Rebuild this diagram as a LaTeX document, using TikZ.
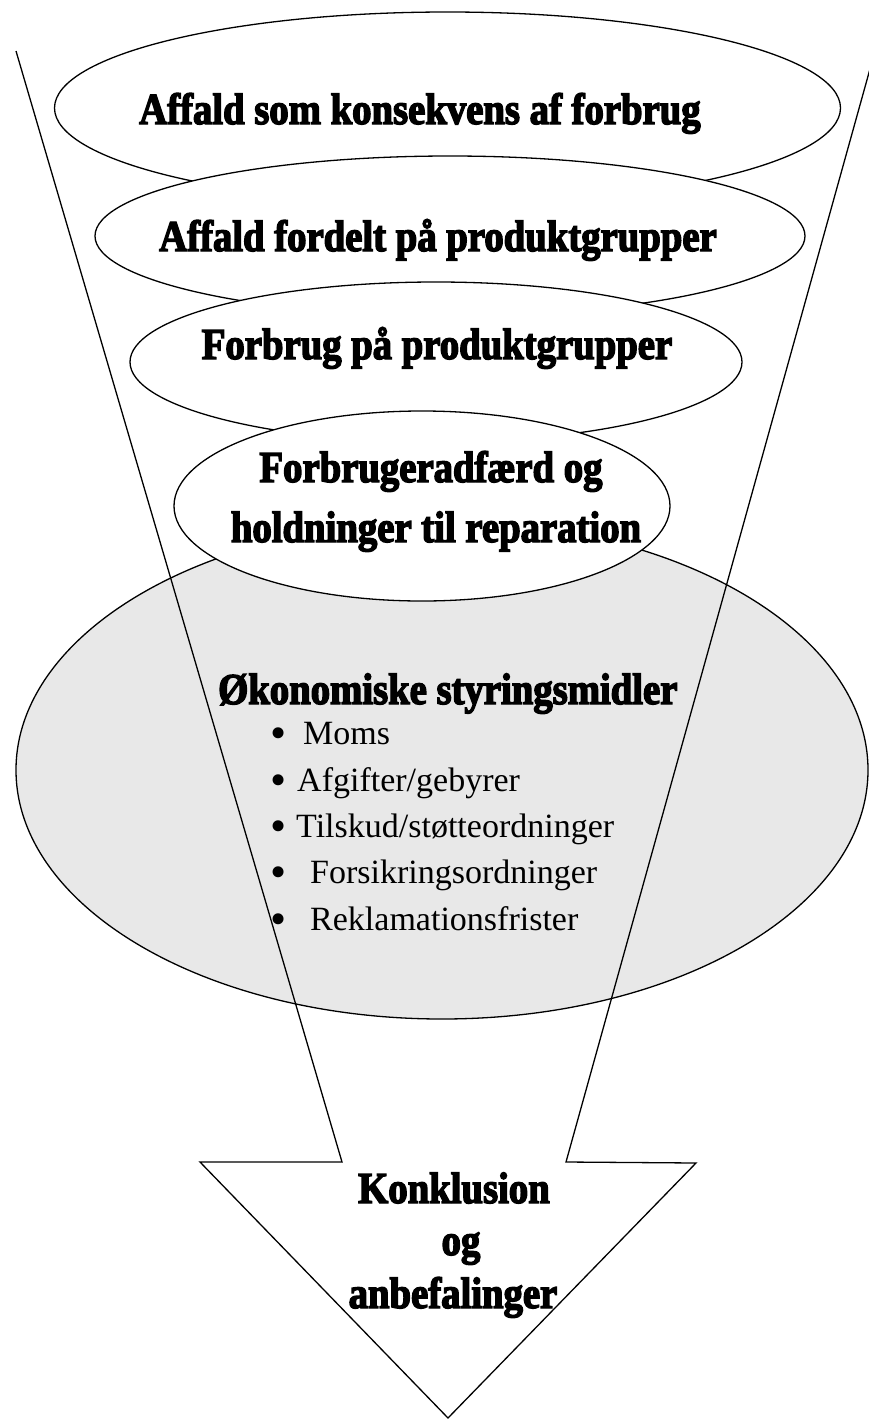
\documentclass[tikz,border=0pt]{standalone}
\usepackage{fontspec}
\setmainfont{Liberation Serif}
\newfontfamily\hvy{Liberation Serif Bold}[FakeBold=3.2, FakeStretch=0.88]
\usetikzlibrary{shapes.geometric}
\definecolor{shade}{HTML}{E8E8E8}
\begin{document}
\begin{tikzpicture}[x=1pt,y=-1pt,
  oval/.style={ellipse, draw, line width=1.3pt, inner sep=0pt, fill=white},
  big/.style={font=\hvy\fontsize{44}{50}\selectfont, inner sep=0pt, anchor=base},
  item/.style={font=\fontsize{34}{40}\selectfont, inner sep=0pt, anchor=base west},
  dot/.style={font=\fontsize{46}{50}\selectfont, inner sep=0pt, anchor=base},
  funnel/.style={draw, line width=1.3pt, line join=miter}]
\useasboundingbox (0,0) rectangle (869,1419);
\clip (0,0) rectangle (869,1419);
% ellipses
\node[oval, minimum width=786pt, minimum height=192pt] (e1) at (447.5,108) {};
\node[oval, minimum width=710pt, minimum height=160pt] (e2) at (450,236) {};
\node[oval, minimum width=612pt, minimum height=160pt] (e3) at (436,362) {};
\node[oval, fill=shade, minimum width=852pt, minimum height=498pt] (e5) at (442,770) {};
\node[oval, minimum width=496pt, minimum height=190pt] (e4) at (422,506) {};
% funnel arrow
\draw[funnel] (16,51) -- (342,1162) -- (200,1162) -- (448,1418) -- (696,1163) -- (566,1162) -- (875,51);
% texts
\node[big] (t1) at (420,124) {Affald som konsekvens af forbrug};
\node[big] (t2) at (438,251) {Affald fordelt på produktgrupper};
\node[big] (t3) at (437,359) {Forbrug på produktgrupper};
\node[big] (t4a) at (431,482) {Forbrugeradfærd og};
\node[big] (t4b) at (436,542) {holdninger til reparation};
\node[big, anchor=base west] (t5) at (218,704) {Økonomiske styringsmidler};
\foreach \y/\x/\txt [count=\i] in {744/303/Moms, 791/297/Afgifter\slash gebyrer, 837/296/Tilskud\slash støtteordninger, 883/310/Forsikringsordninger, 930/310/Reklamationsfrister}{
  \node[dot] (b\i) at (279,\y+4) {•};
  \node[item] (i\i) at (\x,\y) {\txt};
}
\node[big] (t6a) at (454,1203) {Konklusion};
\node[big] (t6b) at (461,1255) {og};
\node[big] (t6c) at (453,1308) {anbefalinger};
\end{tikzpicture}
\end{document}
